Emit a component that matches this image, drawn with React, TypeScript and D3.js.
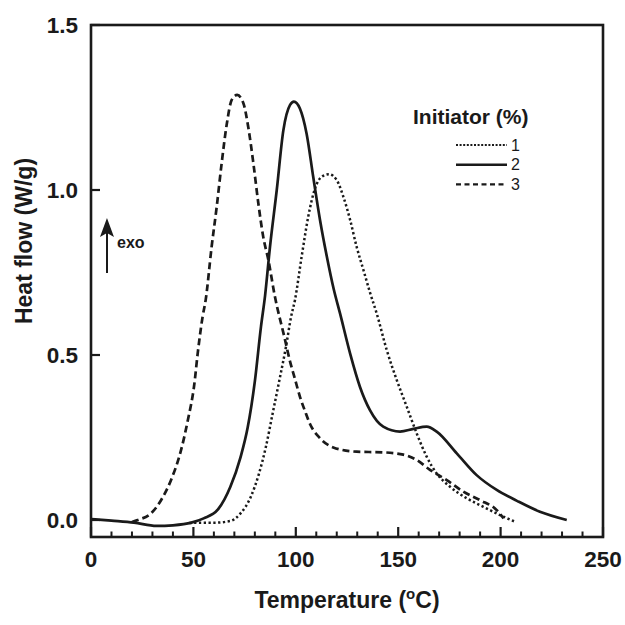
import React from "react";
import * as d3 from "d3";

// Series 1 (1% initiator, dotted)
const temp1 = [48, 55, 60, 68, 73, 78, 82, 85.4, 88.7, 92, 95.2, 97.7, 99.6, 102.9, 106.1, 109.4, 112.6, 116.2, 120, 123.2, 126.5, 129.7, 133, 136.2, 139.5, 144.4, 149.3, 154.2, 159, 163.9, 168.8, 175.3, 183.4, 191.6, 201.4, 207];
const flow1 = [-0.009, -0.008, -0.008, -0.003, 0.02, 0.07, 0.14, 0.222, 0.323, 0.424, 0.525, 0.616, 0.667, 0.8, 0.92, 1.005, 1.04, 1.048, 1.03, 0.98, 0.91, 0.828, 0.758, 0.69, 0.626, 0.515, 0.424, 0.343, 0.263, 0.192, 0.141, 0.101, 0.066, 0.04, 0.01, -0.005];

// Series 2 (2% initiator, solid)
const temp2 = [0, 10, 21, 32, 40, 49, 55, 62, 68, 73, 76.5, 80, 83, 85, 87.4, 90.7, 93.9, 97.2, 99.1, 102, 105.3, 108.5, 111.8, 115.1, 118.5, 121.6, 126.5, 131.3, 136.2, 142.7, 150.9, 157.4, 163.9, 168.8, 178.6, 188.3, 198.1, 208, 219.2, 232.3];
const flow2 = [0.003, -0.002, -0.008, -0.018, -0.016, -0.008, 0.005, 0.032, 0.1, 0.19, 0.28, 0.42, 0.586, 0.68, 0.828, 1.0, 1.18, 1.258, 1.268, 1.247, 1.17, 1.04, 0.91, 0.8, 0.7, 0.626, 0.505, 0.404, 0.333, 0.283, 0.268, 0.276, 0.283, 0.268, 0.202, 0.136, 0.091, 0.058, 0.025, 0.0];

// Series 3 (3% initiator, dashed)
const temp3 = [20, 22.8, 29.3, 34.2, 39, 43.9, 47.2, 50.5, 52.1, 54.5, 56, 58.9, 61.4, 63.8, 66.3, 68.7, 71.4, 74.4, 76.8, 79.3, 81.7, 84.1, 86.6, 89.8, 94.4, 97.2, 99.3, 102, 104.5, 107, 111.8, 118.3, 129.7, 142.7, 152.5, 159, 165.5, 173.7, 181.8, 190, 198.1, 201.5];
const flow3 = [-0.006, 0.0, 0.02, 0.06, 0.12, 0.21, 0.3, 0.414, 0.505, 0.616, 0.667, 0.828, 0.95, 1.081, 1.2, 1.273, 1.288, 1.263, 1.19, 1.08, 0.96, 0.858, 0.788, 0.677, 0.555, 0.48, 0.434, 0.374, 0.33, 0.29, 0.248, 0.22, 0.207, 0.205, 0.198, 0.182, 0.152, 0.121, 0.086, 0.06, 0.03, 0.005];

const xTicks = [0, 50, 100, 150, 200, 250];
const xMinorTicks = [10, 20, 30, 40, 60, 70, 80, 90, 110, 120, 130, 140, 160, 170, 180, 190, 210, 220, 230, 240];
const yTicks = [0.0, 0.5, 1.0, 1.5];
const legendLabels = ["1", "2", "3"];
const legendTitle = "Initiator (%)";

const FONT = "'Liberation Sans', Arial, Helvetica, sans-serif";

export default function App() {
  const left = 91, right = 603, top = 25, bottom = 537;
  const x = d3.scaleLinear().domain([0, 250]).range([left, right]);
  const y = d3.scaleLinear().domain([-0.0515, 1.5]).range([bottom, top]);

  const line = d3
    .line<[number, number]>()
    .x((d) => x(d[0]))
    .y((d) => y(d[1]))
    .curve(d3.curveMonotoneX);

  const s1 = temp1.map((t, i) => [t, flow1[i]] as [number, number]);
  const s2 = temp2.map((t, i) => [t, flow2[i]] as [number, number]);
  const s3 = temp3.map((t, i) => [t, flow3[i]] as [number, number]);

  const styles = [
    { dash: "2.3,2.5", width: 2.5 },
    { dash: "none", width: 2.7 },
    { dash: "7,4", width: 2.7 },
  ];
  const series = [s1, s2, s3];

  const legX0 = 456, legX1 = 507, legY0 = 145, legDy = 19.7;

  const arrowX = x(7.8);

  return (
    <svg
      width={625}
      height={625}
      style={{ position: "fixed", left: 0, top: 0, background: "#fff" }}
      fontFamily={FONT}
    >
      <rect x={0} y={0} width={625} height={625} fill="#fff" />
      {/* curves */}
      {series.map((s, i) => (
        <path
          key={i}
          d={line(s) || ""}
          fill="none"
          stroke="#1a1a1a"
          strokeWidth={styles[i].width}
          strokeDasharray={styles[i].dash}
          strokeLinejoin="round"
        />
      ))}
      {/* frame */}
      <rect
        x={left}
        y={top}
        width={right - left}
        height={bottom - top}
        fill="none"
        stroke="#1a1a1a"
        strokeWidth={2.6}
      />
      {/* x ticks */}
      {xTicks.map((t) => (
        <g key={"xt" + t}>
          <line x1={x(t)} x2={x(t)} y1={bottom} y2={bottom - 10} stroke="#1a1a1a" strokeWidth={2.2} />
          <text
            x={x(t)}
            y={567}
            textAnchor="middle"
            fontSize={22.5}
            fontWeight="bold"
            fill="#1a1a1a"
          >
            {t}
          </text>
        </g>
      ))}
      {xMinorTicks.map((t) => (
        <line key={"xm" + t} x1={x(t)} x2={x(t)} y1={bottom} y2={bottom - 5.5} stroke="#1a1a1a" strokeWidth={2} />
      ))}
      {/* y ticks */}
      {yTicks.map((t) => (
        <g key={"yt" + t}>
          <line x1={left} x2={left + 9} y1={y(t)} y2={y(t)} stroke="#1a1a1a" strokeWidth={2.2} />
          <text
            x={78}
            y={y(t) + 8.3}
            textAnchor="end"
            fontSize={22.5}
            fontWeight="bold"
            fill="#1a1a1a"
          >
            {t.toFixed(1)}
          </text>
        </g>
      ))}
      {/* axis titles */}
      <text x={347} y={608} textAnchor="middle" fontSize={23} fontWeight="bold" fill="#1a1a1a">
        Temperature (<tspan dy={-9} fontSize={15}>o</tspan>
        <tspan dy={9}>C)</tspan>
      </text>
      <text
        transform={`translate(32,${241}) rotate(-90)`}
        textAnchor="middle"
        fontSize={23}
        fontWeight="bold"
        fill="#1a1a1a"
      >
        Heat flow (W/g)
      </text>
      {/* exo arrow */}
      <line x1={arrowX} x2={arrowX} y1={273} y2={232} stroke="#1a1a1a" strokeWidth={2} />
      <path
        d={`M${arrowX},218 L${arrowX + 7},237 L${arrowX},233 L${arrowX - 7},237 Z`}
        fill="#1a1a1a"
      />
      <text x={117} y={248} fontSize={16} fontWeight="bold" fill="#1a1a1a">
        exo
      </text>
      {/* legend */}
      <text x={413} y={124} fontSize={21} fontWeight="bold" fill="#1a1a1a">
        {legendTitle}
      </text>
      {legendLabels.map((lab, i) => (
        <g key={"leg" + lab}>
          <line
            x1={legX0}
            x2={legX1}
            y1={legY0 + i * legDy}
            y2={legY0 + i * legDy}
            stroke="#1a1a1a"
            strokeWidth={i === 1 ? 2.4 : 2.2}
            strokeDasharray={i === 0 ? "2,1.6" : i === 2 ? "5,3.5" : "none"}
          />
          <text x={511} y={legY0 + i * legDy + 5.5} fontSize={16} fill="#1a1a1a">
            {lab}
          </text>
        </g>
      ))}
    </svg>
  );
}
